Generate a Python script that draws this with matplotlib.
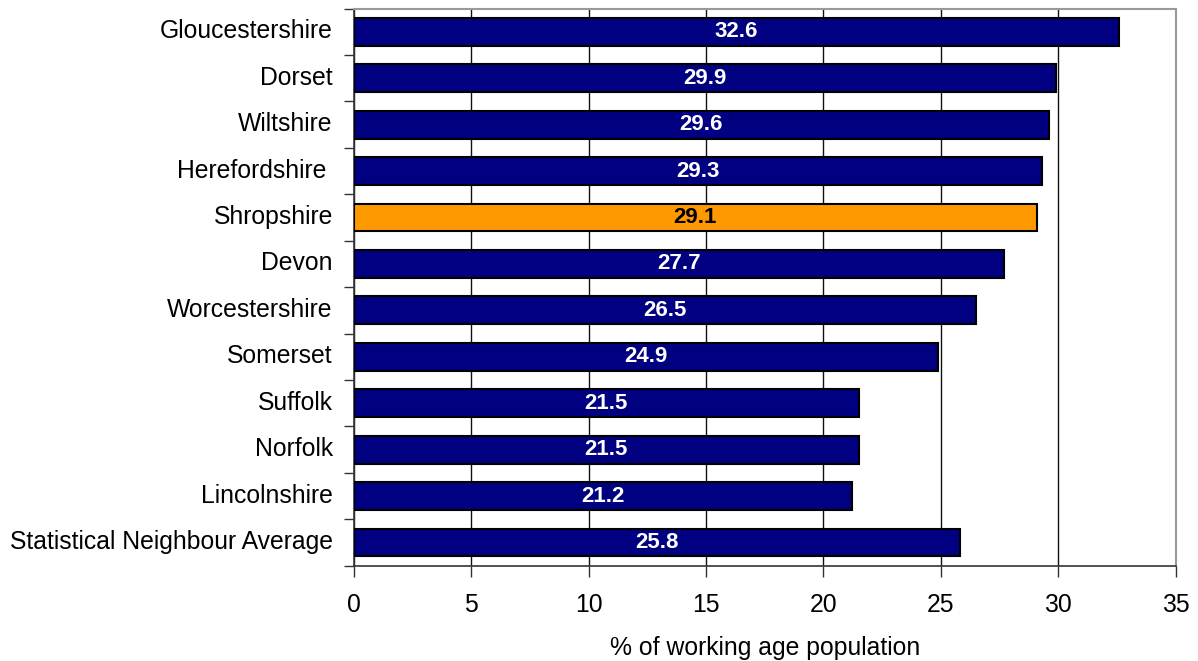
import numpy as np
import matplotlib.pyplot as plt
import matplotlib.transforms as mtransforms

plt.rcParams['font.family'] = ['Liberation Sans', 'DejaVu Sans']

# areas, top to bottom
areas = ['Gloucestershire', 'Dorset', 'Wiltshire', 'Herefordshire ', 'Shropshire',
         'Devon', 'Worcestershire', 'Somerset', 'Suffolk', 'Norfolk',
         'Lincolnshire', 'Statistical Neighbour Average']
pct = [32.6, 29.9, 29.6, 29.3, 29.1, 27.7, 26.5, 24.9, 21.5, 21.5, 21.2, 25.8]
highlight = 'Shropshire'

fig = plt.figure(figsize=(11.98, 6.61), dpi=100)
ax = fig.add_axes([0.2952, 0.1442, 0.9814 - 0.2952, 0.9871 - 0.1442])

y = np.arange(len(areas))
colors = ['#FF9900' if a == highlight else '#000080' for a in areas]
bars = ax.barh(y, pct, height=0.6, color=colors, edgecolor='black', linewidth=1.5, zorder=3)

for b, v, a in zip(bars, pct, areas):
    tc = 'black' if a == highlight else 'white'
    ax.text(v / 2, b.get_y() + b.get_height() / 2, f'{v:.1f}', ha='center', va='center',
            color=tc, fontsize=16, fontweight='bold', zorder=4)

ax.set_ylim(len(areas) - 0.5, -0.5)
ax.set_xlim(0, 35)
ax.set_xticks(np.arange(0, 36, 5))
# major ticks mark category boundaries, names sit on minor ticks
ax.set_yticks(np.arange(len(areas) + 1) - 0.5, minor=False)
ax.set_yticklabels([])
ax.set_yticks(y, minor=True)
ax.set_yticklabels(areas, minor=True)
ax.tick_params(axis='y', which='minor', length=0, pad=15, labelsize=17.8)
ax.tick_params(axis='y', which='major', length=7, width=1, color='#333333')
ax.tick_params(axis='x', length=8, width=1, color='#333333', labelsize=17.8, pad=12)

# nudge the area names up a little
shift = mtransforms.ScaledTranslation(0, 3 / 100, fig.dpi_scale_trans)
for lab in ax.get_yticklabels(minor=True):
    lab.set_transform(lab.get_transform() + shift)

ax.grid(axis='x', color='#111111', linewidth=1, zorder=0)
for s in ['top', 'right']:
    ax.spines[s].set_color('#999999')
    ax.spines[s].set_linewidth(1.5)
for s in ['left', 'bottom']:
    ax.spines[s].set_color('#333333')
    ax.spines[s].set_linewidth(1.2)

ax.set_xlabel('% of working age population', fontsize=17.8, labelpad=13)

fig.savefig('out.png', dpi=100)
